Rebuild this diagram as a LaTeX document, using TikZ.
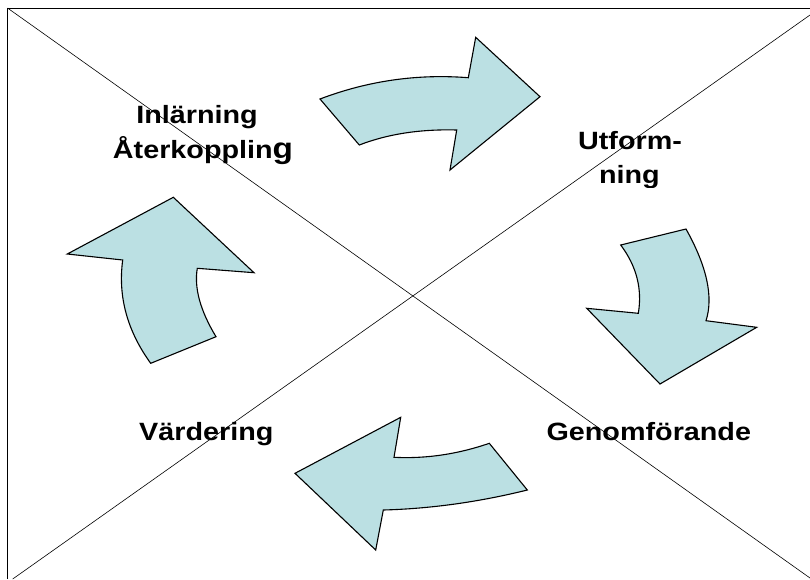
\documentclass[tikz,border=0pt]{standalone}
\usepackage{fontspec}
\newfontfamily\lblfont{Liberation Sans}[FakeStretch=1.15]
\definecolor{arrowfill}{HTML}{BBE0E3}
\begin{document}
\begin{tikzpicture}[x=1pt,y=-1pt,
  cyclearrow/.style={fill=arrowfill,draw=black,line width=1.1pt,line join=miter},
  thinline/.style={draw=black,line width=0.6pt},
  lbl/.style={inner sep=0pt,anchor=base,font=\lblfont\bfseries\fontsize{25}{30}\selectfont}]
\useasboundingbox (0,0) rectangle (810,579);
\fill[white] (0,0) rectangle (810,579);

% frame corners and diagonal end points
\coordinate (tl) at (7.5,8);
\coordinate (tr) at (810,8);
\coordinate (bl) at (7.5,579);
\coordinate (br) at (810,578);
\coordinate (dbl) at (12.7,579);
\coordinate (dtr) at (810,15);

% four curved arrows of the cycle
\path[cyclearrow] (320,99) .. controls (367.9,80.8) and (417.3,73.7) .. (468.3,77.7)
  -- (475.7,37.3) -- (540,96.7) -- (450,170) -- (456.7,130)
  .. controls (420.2,129) and (387.8,134) .. (359.3,145) -- cycle;

\path[cyclearrow] (620.7,245) -- (686,229)
  .. controls (706.9,266.4) and (713.6,297) .. (706,320.7)
  -- (756.7,327.3) -- (660,384) -- (586.7,308.3) -- (638.3,313.3)
  .. controls (642.4,289) and (636.6,266.2) .. (620.7,245) -- cycle;

\path[cyclearrow] (489.3,443.3) -- (527.3,490)
  .. controls (478.9,502) and (430.9,508.7) .. (383.3,510)
  -- (375.7,550) -- (295,473.3) -- (400.7,417.3) -- (394,457.3)
  .. controls (425.8,458.9) and (457.6,454.2) .. (489.3,443.3) -- cycle;

\path[cyclearrow] (150.7,363.3) -- (216,336.7)
  .. controls (200.2,310.6) and (194,287.8) .. (197.3,268.3)
  -- (254,272.7) -- (173.3,197.3) -- (67.3,254) -- (122.7,260)
  .. controls (117.8,296.2) and (127.1,330.7) .. (150.7,363.3) -- cycle;

% frame and diagonals
\draw[thinline] (bl) -- (tl) -- (tr);
\draw[thinline] (tl) -- (br);
\draw[thinline] (dbl) -- (dtr);

% labels
\node[lbl] (inl) at (197,123) {Inlärning};
\node[lbl] (ater) at (203,158) {Återkopplin{\fontsize{29}{32}\selectfont g}};
\node[lbl] (utf) at (630,149) {Utform-};
\begin{scope}
  \clip (560,160) rectangle (700,187);
  \node[lbl] (ning) at (629.4,183) {ning};
\end{scope}
\node[lbl] (vard) at (206.3,440) {Värdering};
\node[lbl] (genom) at (648.8,440) {Genomförande};
\end{tikzpicture}
\end{document}
